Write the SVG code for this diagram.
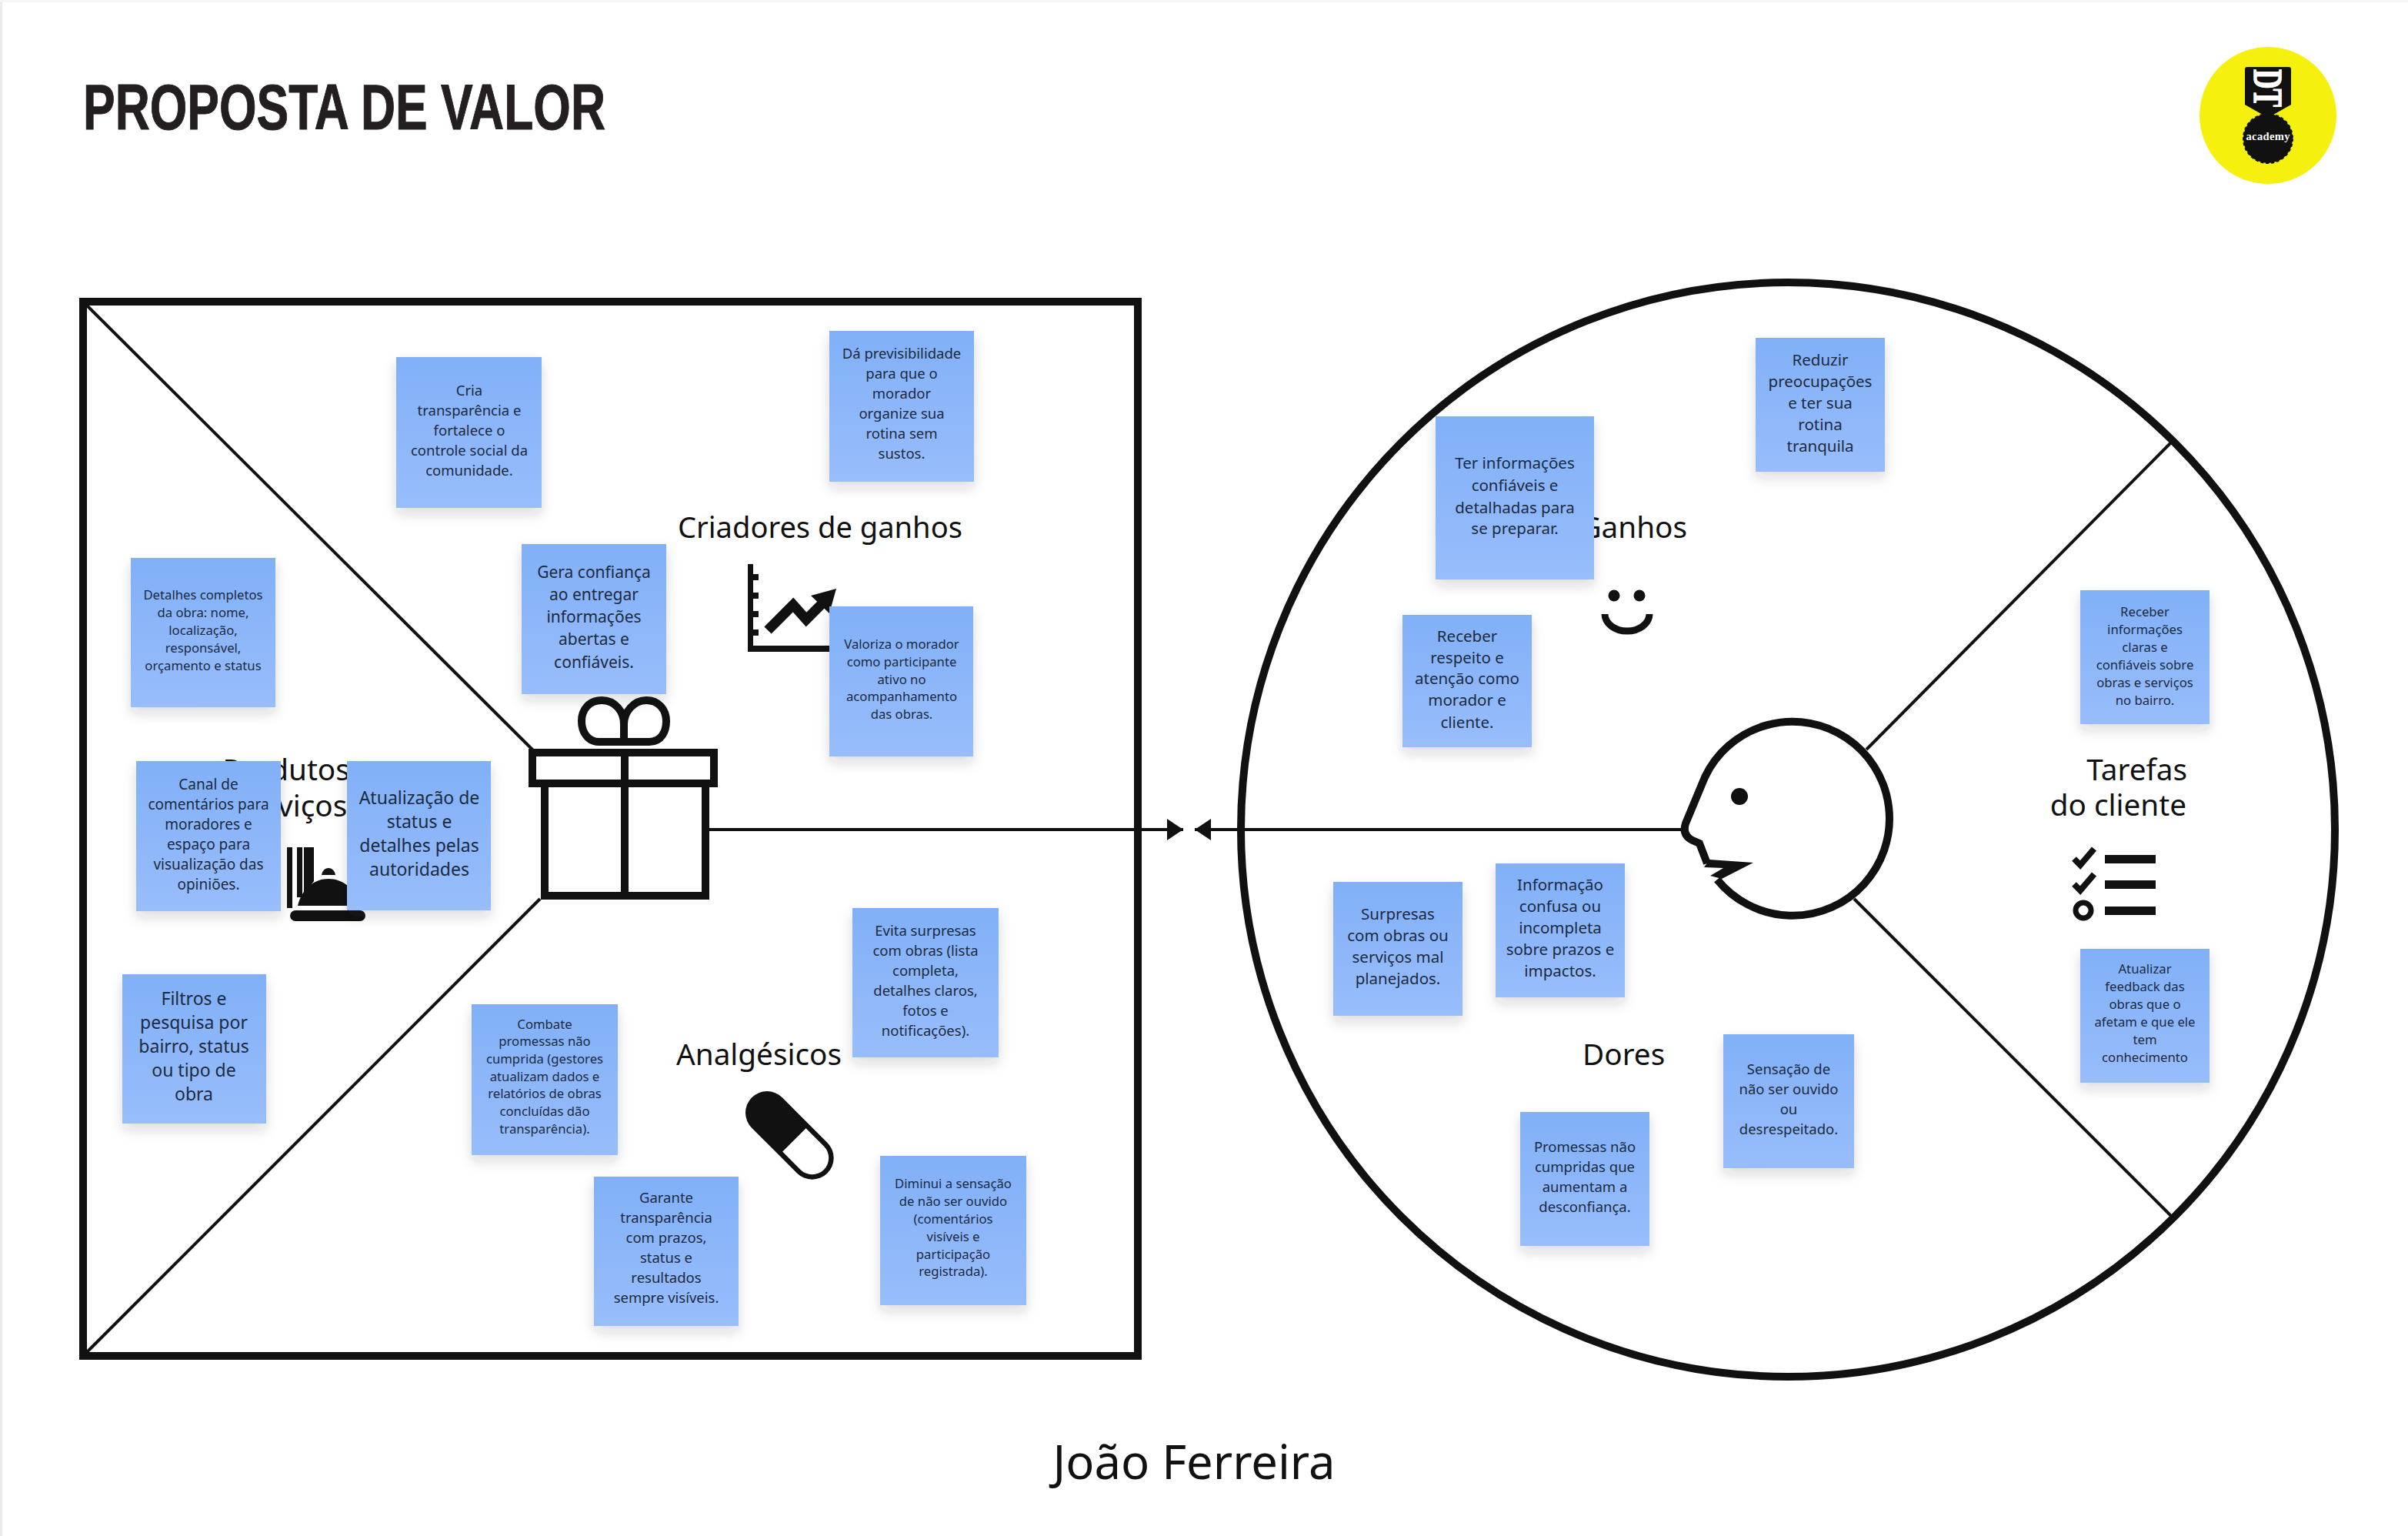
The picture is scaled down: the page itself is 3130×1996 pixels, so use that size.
<svg xmlns="http://www.w3.org/2000/svg" width="3130" height="1996" viewBox="0 0 3130 1996">
<style>
.t{font-family:"Noto Sans","Open Sans","Liberation Sans",sans-serif;fill:#111;font-size:38.700px}
.c{text-anchor:middle;font-family:"Noto Sans","Open Sans","Liberation Sans",sans-serif;fill:#1c2a3f}
.s{fill:url(#g);filter:url(#sh)}
.thin{fill:none;stroke:#111;stroke-width:4}
.ic{fill:none;stroke:#111;stroke-width:10}
.k{fill:#111}
.f17{font-size:16.700px}.f18{font-size:18.500px}.f19{font-size:19px}.f21{font-size:20.500px}.f22{font-size:21px}.f23{font-size:23px}
</style>
<defs>
<linearGradient id="g" x1="0" y1="0" x2="0" y2="1"><stop offset="0" stop-color="#81b0f7"/><stop offset="1" stop-color="#98bdfb"/></linearGradient>
<filter id="sh" x="-20%" y="-20%" width="140%" height="140%"><feDropShadow dx="0" dy="8" stdDeviation="8" flood-color="#223" flood-opacity="0.16"/></filter>
<marker id="ah" markerUnits="userSpaceOnUse" markerWidth="22" markerHeight="28" refX="21" refY="14" orient="auto-start-reverse"><path d="M0 0L21 14L0 28Z" fill="#111"/></marker>
</defs>
<rect width="3130" height="1996" fill="#fff"/>
<rect width="3" height="1996" fill="#ececec"/>
<rect width="3130" height="3" fill="#f6f6f6"/>

<g id="title"><text x="108" y="168" font-family="'Liberation Sans',Arial,sans-serif" font-weight="700" font-size="84" fill="#231f20" stroke="#231f20" stroke-width="1" textLength="679" lengthAdjust="spacingAndGlyphs">PROPOSTA DE VALOR</text></g>

<g id="logo">
<circle cx="2948" cy="150" r="89" fill="#f6f00f"/>
<path d="M2921 87H2975Q2978 87 2978 90V136L2955 149H2941L2918 136V90Q2918 87 2921 87Z" fill="#111"/>
<circle cx="2948" cy="180" r="32" fill="#111" stroke="#111" stroke-width="2" stroke-dasharray="4 3"/>
<text transform="translate(2930,90) rotate(90)" font-family="'Liberation Serif',serif" font-weight="700" font-size="52" fill="#fff" stroke="#fff" stroke-width="1.500" textLength="49" lengthAdjust="spacingAndGlyphs">DT</text>
<text x="2948" y="182" text-anchor="middle" font-family="'Liberation Serif',serif" font-weight="700" font-size="14.500" fill="#fff" textLength="57" lengthAdjust="spacing">academy</text>
</g>

<g id="canvas-left">
<rect x="108" y="392" width="1371" height="1370" fill="#fff" stroke="#111" stroke-width="10"/>
</g>
<g id="canvas-right">
<circle cx="2324" cy="1078" r="711" fill="#fff" stroke="#111" stroke-width="10"/>
</g>

<g id="connectors">
<path class="thin" d="M111 395L693 975"/>
<path class="thin" d="M702 1168L111 1759"/>
<path class="thin" d="M2426 974L2826 571"/>
<path class="thin" d="M2410 1168L2825 1583"/>
<path class="thin" d="M922 1078H1538" marker-end="url(#ah)"/>
<path class="thin" d="M2190 1078H1553" marker-end="url(#ah)"/>
</g>

<g id="label-produtos"><text class="t" x="372" y="1014" text-anchor="middle">Produtos</text><text class="t" x="362" y="1061" text-anchor="middle">e serviços</text></g>
<g id="label-criadores"><text class="t" x="881" y="699" style="font-size:38.100px">Criadores de ganhos</text></g>
<g id="label-analgesicos"><text class="t" x="879" y="1384">Analgésicos</text></g>
<g id="label-ganhos"><text class="t" x="2193" y="699" text-anchor="end">Ganhos</text></g>
<g id="label-dores"><text class="t" x="2057" y="1384">Dores</text></g>
<g id="label-tarefas"><text class="t" x="2843" y="1014" text-anchor="end">Tarefas</text><text class="t" x="2842" y="1060" text-anchor="end">do cliente</text></g>
<g id="label-nome"><text class="t" x="1552" y="1922" text-anchor="middle" style="font-size:61.500px">João Ferreira</text></g>

<g id="icon-chart">
<path class="k" d="M972 733H979V746H986V754H979V770H986V778H979V794H986V802H979V818H986V826H979V839H1090V847H972Z"/>
<path d="M998 819L1031 786L1048 805L1070 783" fill="none" stroke="#111" stroke-width="13"/>
<path class="k" d="M1087 765L1054 774L1078 797Z"/>
</g>

<g id="icon-gift">
<path class="ic" d="M811 964H779C763 964 756 950 756 937C756 922 766 910 782 910C800 910 811 925 811 941V964"/>
<path class="ic" d="M811 964H844C860 964 866 950 866 937C866 922 856 910 840 910C824 910 811 925 811 941"/>
<rect class="ic" x="708" y="1018" width="209" height="146" style="fill:#fff"/>
<rect class="ic" x="692" y="978" width="236" height="40" style="fill:#fff"/>
<rect class="k" x="807" y="978" width="10" height="186"/>
</g>

<g id="icon-bell">
<rect class="k" x="373" y="1101" width="7" height="79"/>
<rect class="k" x="386" y="1101" width="7" height="65"/>
<path class="k" d="M395 1101H408V1145L395 1162Z"/>
<path class="k" d="M387 1177C392 1155 408 1142 427 1142C446 1142 462 1155 467 1177Z"/>
<path class="k" d="M418 1137C419 1131 423 1128 427 1128C431 1128 435 1131 436 1137Z"/>
<rect class="k" x="377" y="1183" width="98" height="14" rx="7"/>
</g>

<g id="icon-pill" transform="translate(997,1446) rotate(45)">
<rect class="k" x="-28" y="-28" width="139" height="56" rx="28"/>
<path d="M50 -21.500H83A21.500 21.500 0 0 1 83 21.500H50Z" fill="#fff"/>
</g>

<g id="icon-smile">
<circle class="k" cx="2098" cy="774" r="7.500"/><circle class="k" cx="2131" cy="774" r="7.500"/>
<path d="M2086 798A29 22 0 0 0 2144 798" fill="none" stroke="#111" stroke-width="9"/>
</g>

<g id="icon-head">
<path d="M2232 1143A126 126 0 1 0 2216 1010L2191 1070Q2186 1085 2200 1092L2209 1096L2219 1122" fill="#fff" stroke="#111" stroke-width="10"/>
<path class="k" d="M2222 1117L2279 1121L2238 1142L2223 1138L2240 1128L2215 1127Z"/>
<circle class="k" cx="2261" cy="1035" r="11"/>
</g>

<g id="icon-tasks">
<path d="M2696 1116L2704 1124L2722 1103M2696 1149L2704 1157L2722 1136" fill="none" stroke="#111" stroke-width="8"/>
<circle cx="2708" cy="1183" r="10" fill="none" stroke="#111" stroke-width="7"/>
<rect class="k" x="2736" y="1111" width="66" height="11"/><rect class="k" x="2736" y="1144" width="66" height="11"/><rect class="k" x="2736" y="1178" width="66" height="11"/>
</g>

<g id="n1" transform="translate(-1,0)"><rect class="s" x="516" y="464" width="189" height="196"/><text class="c f18"><tspan x="611" y="514">Cria</tspan><tspan x="611" y="540">transparência e</tspan><tspan x="611" y="566">fortalece o</tspan><tspan x="611" y="592">controle social da</tspan><tspan x="611" y="618">comunidade.</tspan></text></g>
<g id="n2" transform="translate(-2,0)"><rect class="s" x="1080" y="430" width="188" height="196"/><text class="c f18"><tspan x="1174" y="466">Dá previsibilidade</tspan><tspan x="1174" y="492">para que o</tspan><tspan x="1174" y="518">morador</tspan><tspan x="1174" y="544">organize sua</tspan><tspan x="1174" y="570">rotina sem</tspan><tspan x="1174" y="596">sustos.</tspan></text></g>
<g id="n3"><rect class="s" x="678" y="707" width="188" height="195"/><text class="c f22"><tspan x="772" y="751">Gera confiança</tspan><tspan x="772" y="780">ao entregar</tspan><tspan x="772" y="809">informações</tspan><tspan x="772" y="838">abertas e</tspan><tspan x="772" y="868">confiáveis.</tspan></text></g>
<g id="n4"><rect class="s" x="170" y="725" width="188" height="194"/><text class="c f17"><tspan x="264" y="779">Detalhes completos</tspan><tspan x="264" y="802">da obra: nome,</tspan><tspan x="264" y="825">localização,</tspan><tspan x="264" y="848">responsável,</tspan><tspan x="264" y="871">orçamento e status</tspan></text></g>
<g id="n5"><rect class="s" x="1078" y="788" width="187" height="195"/><text class="c f17"><tspan x="1172" y="843">Valoriza o morador</tspan><tspan x="1172" y="866">como participante</tspan><tspan x="1172" y="889">ativo no</tspan><tspan x="1172" y="911">acompanhamento</tspan><tspan x="1172" y="934">das obras.</tspan></text></g>
<g id="n6"><rect class="s" x="177" y="989" width="188" height="195"/><text class="c f19"><tspan x="271" y="1026">Canal de</tspan><tspan x="271" y="1052">comentários para</tspan><tspan x="271" y="1078">moradores e</tspan><tspan x="271" y="1104">espaço para</tspan><tspan x="271" y="1130">visualização das</tspan><tspan x="271" y="1156">opiniões.</tspan></text></g>
<g id="n7"><rect class="s" x="451" y="989" width="187" height="194"/><text class="c f23"><tspan x="545" y="1045">Atualização de</tspan><tspan x="545" y="1076">status e</tspan><tspan x="545" y="1107">detalhes pelas</tspan><tspan x="545" y="1138">autoridades</tspan></text></g>
<g id="n8" transform="translate(0,-2)"><rect class="s" x="159" y="1268" width="187" height="194"/><text class="c f23"><tspan x="252" y="1308">Filtros e</tspan><tspan x="252" y="1339">pesquisa por</tspan><tspan x="252" y="1370">bairro, status</tspan><tspan x="252" y="1401">ou tipo de</tspan><tspan x="252" y="1432">obra</tspan></text></g>
<g id="n9" transform="translate(-2,-2)"><rect class="s" x="1110" y="1182" width="190" height="194"/><text class="c f18"><tspan x="1205" y="1218">Evita surpresas</tspan><tspan x="1205" y="1244">com obras (lista</tspan><tspan x="1205" y="1270">completa,</tspan><tspan x="1205" y="1296">detalhes claros,</tspan><tspan x="1205" y="1322">fotos e</tspan><tspan x="1205" y="1348">notificações).</tspan></text></g>
<g id="n10" transform="translate(-1,-3)"><rect class="s" x="614" y="1308" width="190" height="196"/><text class="c f17"><tspan x="709" y="1340">Combate</tspan><tspan x="709" y="1362">promessas não</tspan><tspan x="709" y="1385">cumprida (gestores</tspan><tspan x="709" y="1408">atualizam dados e</tspan><tspan x="709" y="1430">relatórios de obras</tspan><tspan x="709" y="1453">concluídas dão</tspan><tspan x="709" y="1476">transparência).</tspan></text></g>
<g id="n11" transform="translate(-2,-3)"><rect class="s" x="774" y="1532" width="188" height="194"/><text class="c f18"><tspan x="868" y="1566">Garante</tspan><tspan x="868" y="1592">transparência</tspan><tspan x="868" y="1618">com prazos,</tspan><tspan x="868" y="1644">status e</tspan><tspan x="868" y="1670">resultados</tspan><tspan x="868" y="1696">sempre visíveis.</tspan></text></g>
<g id="n12" transform="translate(-2,-4)"><rect class="s" x="1146" y="1506" width="190" height="194"/><text class="c f17"><tspan x="1241" y="1548">Diminui a sensação</tspan><tspan x="1241" y="1571">de não ser ouvido</tspan><tspan x="1241" y="1594">(comentários</tspan><tspan x="1241" y="1617">visíveis e</tspan><tspan x="1241" y="1640">participação</tspan><tspan x="1241" y="1662">registrada).</tspan></text></g>

<g id="n13" transform="translate(-4,-1)"><rect class="s" x="2286" y="440" width="168" height="174"/><text class="c f21"><tspan x="2370" y="476">Reduzir</tspan><tspan x="2370" y="504">preocupações</tspan><tspan x="2370" y="532">e ter sua</tspan><tspan x="2370" y="560">rotina</tspan><tspan x="2370" y="588">tranquila</tspan></text></g>
<g id="n14" transform="translate(-4,-1)"><rect class="s" x="1870" y="542" width="206" height="212"/><text class="c f21"><tspan x="1973" y="610">Ter informações</tspan><tspan x="1973" y="639">confiáveis e</tspan><tspan x="1973" y="668">detalhadas para</tspan><tspan x="1973" y="695">se preparar.</tspan></text></g>
<g id="n15" transform="translate(-3,-1)"><rect class="s" x="1826" y="800" width="168" height="172"/><text class="c f21"><tspan x="1910" y="835">Receber</tspan><tspan x="1910" y="863">respeito e</tspan><tspan x="1910" y="890">atenção como</tspan><tspan x="1910" y="918">morador e</tspan><tspan x="1910" y="947">cliente.</tspan></text></g>
<g id="n16" transform="translate(-6,-1)"><rect class="s" x="2710" y="768" width="168" height="174"/><text class="c f17"><tspan x="2794" y="802">Receber</tspan><tspan x="2794" y="825">informações</tspan><tspan x="2794" y="848">claras e</tspan><tspan x="2794" y="871">confiáveis sobre</tspan><tspan x="2794" y="894">obras e serviços</tspan><tspan x="2794" y="917">no bairro.</tspan></text></g>
<g id="n17" transform="translate(-6,-3)"><rect class="s" x="2710" y="1236" width="168" height="174"/><text class="c f17"><tspan x="2794" y="1268">Atualizar</tspan><tspan x="2794" y="1291">feedback das</tspan><tspan x="2794" y="1314">obras que o</tspan><tspan x="2794" y="1337">afetam e que ele</tspan><tspan x="2794" y="1360">tem</tspan><tspan x="2794" y="1383">conhecimento</tspan></text></g>
<g id="n18" transform="translate(-3,-2)"><rect class="s" x="1736" y="1148" width="168" height="174"/><text class="c f21"><tspan x="1820" y="1197">Surpresas</tspan><tspan x="1820" y="1225">com obras ou</tspan><tspan x="1820" y="1253">serviços mal</tspan><tspan x="1820" y="1281">planejados.</tspan></text></g>
<g id="n19" transform="translate(-4,-2)"><rect class="s" x="1948" y="1124" width="168" height="174"/><text class="c f21"><tspan x="2032" y="1159">Informação</tspan><tspan x="2032" y="1187">confusa ou</tspan><tspan x="2032" y="1215">incompleta</tspan><tspan x="2032" y="1243">sobre prazos e</tspan><tspan x="2032" y="1271">impactos.</tspan></text></g>
<g id="n20" transform="translate(-4,-2)"><rect class="s" x="2244" y="1346" width="170" height="174"/><text class="c f18"><tspan x="2329" y="1398">Sensação de</tspan><tspan x="2329" y="1424">não ser ouvido</tspan><tspan x="2329" y="1450">ou</tspan><tspan x="2329" y="1476">desrespeitado.</tspan></text></g>
<g id="n21" transform="translate(-4,-3)"><rect class="s" x="1980" y="1448" width="168" height="174"/><text class="c f18"><tspan x="2064" y="1500">Promessas não</tspan><tspan x="2064" y="1526">cumpridas que</tspan><tspan x="2064" y="1552">aumentam a</tspan><tspan x="2064" y="1578">desconfiança.</tspan></text></g>
</svg>
